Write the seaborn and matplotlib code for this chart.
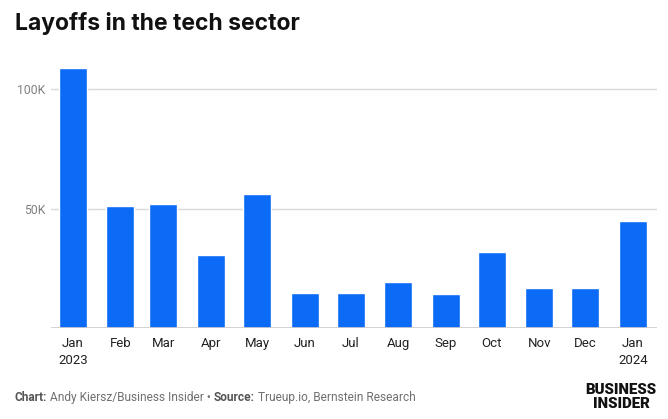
import matplotlib
matplotlib.use('Agg')
import matplotlib.pyplot as plt
import seaborn as sns
import pandas as pd
from matplotlib import font_manager

# data
months = ['2023-01-01', '2023-02-01', '2023-03-01', '2023-04-01', '2023-05-01',
          '2023-06-01', '2023-07-01', '2023-08-01', '2023-09-01', '2023-10-01',
          '2023-11-01', '2023-12-01', '2024-01-01']
month_labels = ['Jan\n2023', 'Feb', 'Mar', 'Apr', 'May', 'Jun', 'Jul', 'Aug',
                'Sep', 'Oct', 'Nov', 'Dec', 'Jan\n2024']
layoffs = [109000, 51000, 52200, 30800, 56000, 14700, 14700, 19300, 14400,
           32000, 16900, 16900, 44700]
y_ticks = [0, 50000, 100000]
y_tick_labels = ['', '50K', '100K']

dates = pd.to_datetime(months)
df = pd.DataFrame({'day': (dates - dates[0]).days, 'layoffs': layoffs})

names = {f.name for f in font_manager.fontManager.ttflist}
narrow = 'Liberation Sans Narrow' if 'Liberation Sans Narrow' in names else 'Roboto'

sns.set_theme(style='white')
plt.rcParams['font.family'] = ['Roboto', 'DejaVu Sans']

fig = plt.figure(figsize=(6.68, 4.19), dpi=100)
ax = fig.add_axes([0.0763, 0.2165, 0.9072, 0.6274])

sns.barplot(data=df, x='day', y='layoffs', native_scale=True, width=0.652,
            color='#0b6af6', saturation=1, errorbar=None, ax=ax, zorder=3)

ax.set_xlim(-14.3, 380.6)
ax.set_ylim(0, 110000)
ax.set_yticks(y_ticks)
ax.set_yticklabels(y_tick_labels)
ax.set_xticks(df['day'])
ax.set_xticklabels(month_labels)
ax.grid(axis='y', color='#d9d9d9', linewidth=1, zorder=0)
ax.axhline(0, color='#cccccc', linewidth=1.2, zorder=4)
for s in ax.spines.values():
    s.set_visible(False)
ax.set_xlabel('')
ax.set_ylabel('')
ax.tick_params(axis='y', length=0, pad=4, labelsize=8.8, labelcolor='#808080')
ax.tick_params(axis='x', length=0, pad=6, labelsize=9.5, labelcolor='#222222')
for t in ax.get_xticklabels():
    t.set_family(narrow)
    t.set_linespacing(1.45)

fig.text(0.022, 0.943, 'Layoffs in the tech sector', fontsize=16.5, fontweight='bold',
         family=['Inter', 'DejaVu Sans'], color='#111111', va='center', ha='left')

# footer
fy = 0.052
fs = 8.6
t1 = fig.text(0.022, fy, 'Chart:', fontsize=fs, fontweight='bold', family=narrow,
              color='#555555', va='center')
fig.canvas.draw()
r = fig.canvas.get_renderer()
def after(t, s, bold=False):
    bb = t.get_window_extent(r)
    x = (bb.x1 + 3) / fig.bbox.width
    nt = fig.text(x, fy, s, fontsize=fs, fontweight='bold' if bold else 'normal',
                  family=narrow, color='#555555' if bold else '#707070', va='center')
    return nt
t2 = after(t1, 'Andy Kiersz/Business Insider \u2022')
t3 = after(t2, 'Source:', bold=True)
t4 = after(t3, 'Trueup.io, Bernstein Research')

fig.text(0.930, 0.053, 'BUSINESS\nINSIDER', fontsize=10.8, fontweight='heavy',
         family=narrow, color='#111111', ha='center', va='center', linespacing=0.95)

fig.savefig('out.png', dpi=100)
